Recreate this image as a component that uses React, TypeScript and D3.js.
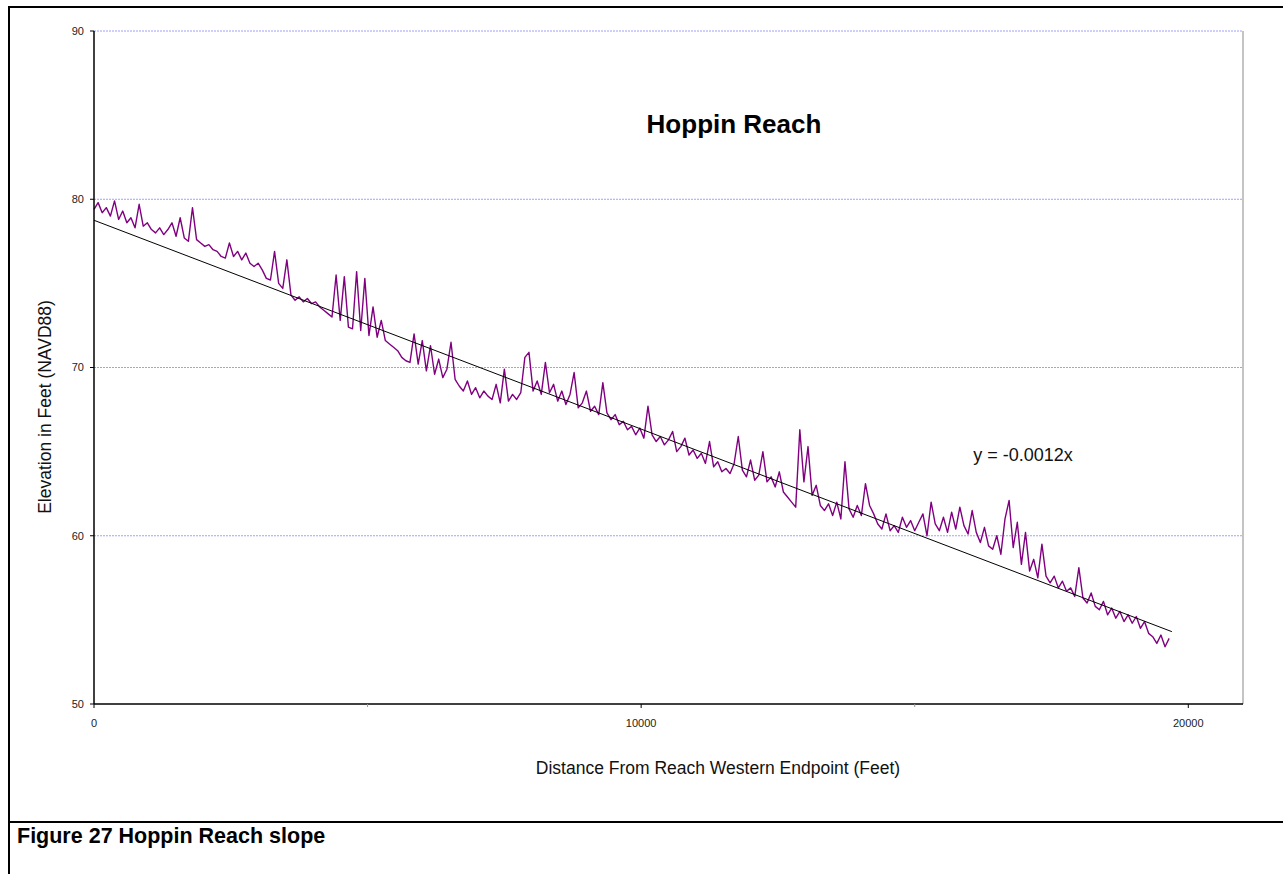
import React from "react";
import * as d3 from "d3";

const DIST_STEP = 75; // feet between survey points
const ELEVATION = [
  79.4, 79.8, 79.2, 79.5, 79.0, 79.9, 78.8, 79.3, 78.6, 78.9,
  78.3, 79.7, 78.4, 78.6, 78.2, 78.0, 78.3, 77.9, 78.2, 78.6,
  77.8, 78.9, 77.7, 77.5, 79.5, 77.6, 77.4, 77.2, 77.3, 77.0,
  76.9, 76.6, 76.5, 77.4, 76.6, 76.9, 76.4, 76.8, 76.2, 76.0,
  76.2, 75.8, 75.3, 75.2, 76.9, 75.0, 74.7, 76.4, 74.3, 74.0,
  74.2, 73.9, 74.1, 73.8, 73.9, 73.6, 73.4, 73.2, 73.0, 75.5,
  72.8, 75.4, 72.4, 72.3, 75.7, 72.2, 75.3, 71.9, 73.6, 71.8,
  72.8, 71.6, 71.4, 71.2, 71.0, 70.6, 70.4, 70.3, 72.0, 70.2,
  71.6, 69.8, 71.3, 69.6, 70.5, 69.4, 69.9, 71.5, 69.3, 68.9,
  68.6, 69.2, 68.4, 68.8, 68.2, 68.6, 68.3, 68.1, 69.0, 67.9,
  69.9, 68.0, 68.4, 68.1, 68.5, 70.6, 70.9, 68.6, 69.2, 68.4,
  70.3, 68.5, 69.0, 68.0, 68.6, 67.8, 68.4, 69.7, 67.6, 67.9,
  68.6, 67.4, 67.7, 67.2, 69.1, 67.3, 66.9, 67.2, 66.6, 66.8,
  66.3, 66.5, 66.0, 66.4, 65.8, 67.7, 66.0, 65.6, 65.9, 65.4,
  65.7, 66.2, 65.0, 65.3, 65.8, 64.8, 65.1, 64.6, 64.9, 64.3,
  65.6, 64.1, 64.4, 63.8, 64.0, 63.7, 64.3, 65.9, 63.9, 63.5,
  64.5, 63.3, 63.6, 65.0, 63.2, 63.5, 62.9, 63.8, 62.6, 62.3,
  62.0, 61.7, 66.3, 63.2, 65.3, 62.4, 63.0, 61.8, 61.5, 61.9,
  61.2, 62.0, 61.0, 64.4, 61.6, 61.1, 61.8, 61.2, 63.1, 61.8,
  61.3, 60.7, 60.4, 61.3, 60.3, 60.6, 60.2, 61.1, 60.5, 60.9,
  60.3, 60.8, 61.3, 60.0, 62.0, 60.7, 60.3, 61.1, 60.2, 61.4,
  60.4, 61.7, 60.6, 60.1, 61.5, 60.2, 59.6, 60.5, 59.4, 59.2,
  60.0, 58.9, 61.0, 62.1, 59.3, 60.8, 58.3, 60.2, 57.9, 58.6,
  57.5, 59.5, 57.6, 57.2, 57.6, 56.9, 57.3, 56.7, 56.9, 56.4,
  58.1, 56.3, 56.0, 56.6, 55.8, 55.6, 56.1, 55.3, 55.7, 55.1,
  55.5, 54.9, 55.3, 54.8, 55.2, 54.5, 54.9, 54.2, 54.0, 53.6,
  54.1, 53.4, 53.9,
];
const TREND_X = [0, 19700];
const TREND_Y = [78.75, 54.3];
const Y_TICKS = [50, 60, 70, 80, 90];
const Y_GRID = [60, 70, 80, 90];
const X_TICKS = [0, 10000, 20000];
const X_MINOR = [5000, 15000];
const TITLE = "Hoppin Reach";
const EQUATION = "y = -0.0012x";
const X_LABEL = "Distance From Reach Western Endpoint (Feet)";
const Y_LABEL = "Elevation in Feet (NAVD88)";
const CAPTION = "Figure 27 Hoppin Reach slope";

const FONT = "'Liberation Sans', Arial, sans-serif";

export default function App() {
  const W = 1283, H = 874;
  const left = 94, right = 1243, top = 31, bottom = 704;
  const x = d3.scaleLinear().domain([0, 21000]).range([left, right]);
  const y = d3.scaleLinear().domain([50, 90]).range([bottom, top]);

  const pts: [number, number][] = ELEVATION.map((v, i) => [i * DIST_STEP, v]);
  const line = d3.line<[number, number]>().x(d => x(d[0])).y(d => y(d[1]));
  const trend: [number, number][] = TREND_X.map((v, i) => [v, TREND_Y[i]]);

  return (
    <svg width={W} height={H} style={{ position: "absolute", left: 0, top: 0 }}>
      <rect x={0} y={0} width={W} height={H} fill="#fff" />
      {/* outer frame */}
      <line x1={9} y1={7} x2={W} y2={7} stroke="#000" strokeWidth={2} />
      <line x1={9} y1={6} x2={9} y2={H} stroke="#000" strokeWidth={2} />
      <line x1={9} y1={822} x2={W} y2={822} stroke="#000" strokeWidth={2} />

      {/* gridlines */}
      {Y_GRID.map(t => (
        <line key={t} x1={left} x2={right} y1={y(t)} y2={y(t)} stroke="#a0a0f8" strokeWidth={1} strokeDasharray="2,1" />
      ))}
      {/* right border */}
      <line x1={right} x2={right} y1={top} y2={bottom} stroke="#c4c4c4" strokeWidth={2} />

      {/* data */}
      <path d={line(pts) || ""} fill="none" stroke="#800080" strokeWidth={1.4} strokeLinejoin="round" />
      <path d={line(trend) || ""} fill="none" stroke="#000" strokeWidth={1} />

      {/* axes */}
      <line x1={left} x2={left} y1={top} y2={bottom} stroke="#000" strokeWidth={1.5} />
      <line x1={left} x2={right} y1={bottom} y2={bottom} stroke="#000" strokeWidth={1.5} />
      {Y_TICKS.map(t => (
        <g key={t}>
          <line x1={left - 4} x2={left} y1={y(t)} y2={y(t)} stroke="#000" />
          <text x={left - 10} y={y(t)} dy="0.35em" textAnchor="end" fontFamily={FONT} fontSize={11} fill="#222">{t}</text>
        </g>
      ))}
      {X_TICKS.map(t => (
        <g key={t}>
          <line x1={x(t)} x2={x(t)} y1={bottom} y2={bottom + 4} stroke="#000" />
          <text x={x(t)} y={bottom + 23} textAnchor="middle" fontFamily={FONT} fontSize={11} fill="#222">{t}</text>
        </g>
      ))}
      {X_MINOR.map(t => (
        <line key={t} x1={x(t)} x2={x(t)} y1={bottom} y2={bottom + 3} stroke="#999" />
      ))}

      {/* texts */}
      <text x={734} y={133} textAnchor="middle" fontFamily={FONT} fontSize={26} fontWeight="bold">{TITLE}</text>
      <text x={1023} y={461} textAnchor="middle" fontFamily={FONT} fontSize={18} fill="#111">{EQUATION}</text>
      <text x={718} y={774} textAnchor="middle" fontFamily={FONT} fontSize={17.5} fill="#111">{X_LABEL}</text>
      <text transform={`translate(51,407) rotate(-90)`} textAnchor="middle" fontFamily={FONT} fontSize={17.5} fill="#111">{Y_LABEL}</text>
      <text x={17} y={843} fontFamily={FONT} fontSize={21.5} fontWeight="bold">{CAPTION}</text>
    </svg>
  );
}
